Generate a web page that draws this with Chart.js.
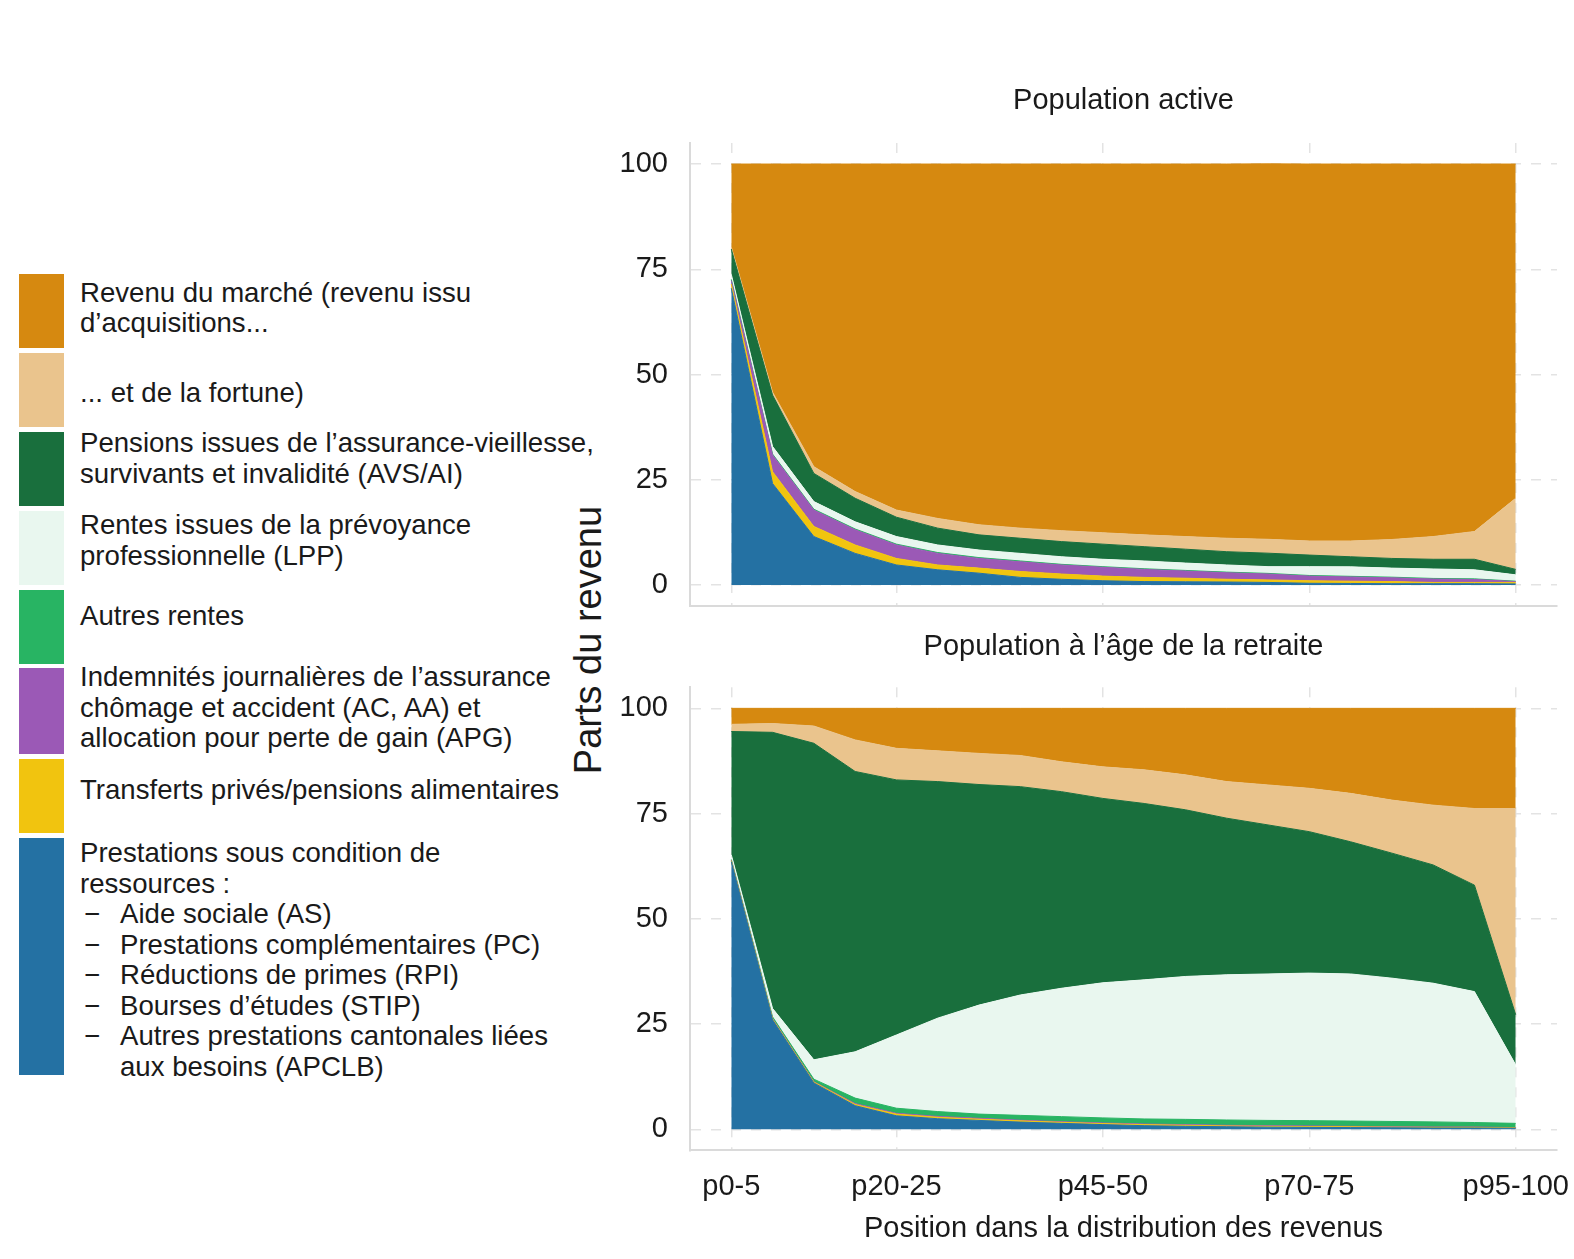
<!doctype html>
<html>
<head>
<meta charset="utf-8">
<title>Parts du revenu</title>
<script src="https://cdn.jsdelivr.net/npm/chart.js@4.4.0/dist/chart.umd.min.js"></script>
<style>
body { margin: 0; background: #fff; font-family: "Liberation Sans", Arial, sans-serif; color: #1a1a1a; }
#wrap { position: relative; width: 1574px; height: 1259px; overflow: hidden; }
#cTop { position: absolute; left: 0; top: 0; }
#cBot { position: absolute; left: 0; top: 615px; }
#ytitle { position: absolute; left: 588px; top: 640px; transform: translate(-50%, -50%) rotate(-90deg);
  font-size: 38px; white-space: nowrap; }
#legend { position: absolute; left: 19px; top: 274px; }
.row { display: flex; align-items: center; margin-bottom: 4.9px; }
.sw { width: 45px; flex: none; align-self: stretch; }
.txt { position: relative; margin-left: 16px; font-size: 27.6px; line-height: 30.5px; white-space: nowrap; }
.li { position: relative; padding-left: 40px; }
.li:before { content: "\2212"; position: absolute; left: 4px; }
</style>
</head>
<body>
<div id="wrap">
  <div id="legend"></div>
  <div id="ytitle">Parts du revenu</div>
  <canvas id="cTop" width="1574" height="625"></canvas>
  <canvas id="cBot" width="1574" height="644"></canvas>
</div>
<script>
// categories (percentiles of the income distribution)
const categories = ['p0-5','p5-10','p10-15','p15-20','p20-25','p25-30','p30-35','p35-40','p40-45','p45-50',
                    'p50-55','p55-60','p60-65','p65-70','p70-75','p75-80','p80-85','p85-90','p90-95','p95-100'];
const xTickIdx = [0, 4, 9, 14, 19];
const yTicks = [0, 25, 50, 75, 100];

// series, bottom to top
const seriesNames = ['Prestations sous condition de ressources', 'Transferts privés/pensions alimentaires',
  'Indemnités journalières (AC, AA, APG)', 'Autres rentes', 'Rentes LPP', 'Pensions AVS/AI',
  'Revenu de la fortune', 'Revenu d’acquisitions'];
const seriesColors = ['#2471A3', '#F1C40F', '#9B59B6', '#28B463', '#E9F7EF', '#196F3D', '#EAC48D', '#D68910'];

// Population active
const activeMeansTested = [70.5, 24.1, 11.5, 7.5, 4.75, 3.6, 2.8, 1.8, 1.35, 1.0, 0.8, 0.75, 0.7, 0.6, 0.4, 0.35, 0.3, 0.3, 0.3, 0.25];
const activeTransfers   = [1.0, 2.8, 2.4, 2.0, 1.55, 1.15, 1.2, 1.4, 1.25, 1.1, 1.0, 0.85, 0.65, 0.6, 0.6, 0.55, 0.5, 0.3, 0.3, 0.35];
const activeDaily       = [0.8, 4.0, 3.9, 3.6, 3.2, 2.75, 2.3, 2.3, 2.15, 2.1, 1.9, 1.7, 1.55, 1.4, 1.1, 1.0, 0.9, 0.8, 0.7, 0.2];
const activeOther       = [0.3, 0.2, 0.2, 0.2, 0.2, 0.2, 0.2, 0.2, 0.15, 0.15, 0.15, 0.15, 0.15, 0.15, 0.15, 0.15, 0.15, 0.15, 0.15, 0.1];
const activeLPP         = [1.2, 1.8, 1.8, 1.7, 1.8, 1.8, 1.8, 1.8, 1.8, 1.75, 1.85, 1.75, 1.7, 1.6, 2.1, 2.25, 2.15, 2.25, 2.15, 1.5];
const activeAVS         = [6.0, 12.2, 6.7, 5.6, 4.6, 4.0, 3.6, 3.6, 3.6, 3.6, 3.4, 3.3, 3.15, 3.2, 2.75, 2.4, 2.3, 2.3, 2.5, 1.3];
const activeWealth      = [0.5, 0.7, 1.6, 1.6, 1.7, 2.3, 2.4, 2.4, 2.6, 2.7, 2.8, 3.0, 3.2, 3.3, 3.35, 3.75, 4.5, 5.4, 6.6, 16.9];
const activeMarket      = [19.7, 54.2, 71.9, 77.8, 82.2, 84.2, 85.7, 86.5, 87.1, 87.6, 88.1, 88.5, 88.9, 89.2, 89.55, 89.55, 89.2, 88.5, 87.3, 79.4];

// Population à l'âge de la retraite
const retMeansTested = [63.6, 26.0, 11.0, 5.6, 3.2, 2.5, 2.1, 1.7, 1.4, 1.1, 0.85, 0.7, 0.6, 0.5, 0.45, 0.4, 0.35, 0.3, 0.3, 0.25];
const retTransfers   = [0.2, 0.2, 0.2, 0.3, 0.4, 0.35, 0.3, 0.3, 0.25, 0.25, 0.25, 0.25, 0.2, 0.2, 0.2, 0.2, 0.15, 0.15, 0.15, 0.1];
const retDaily       = [0.1, 0.1, 0.1, 0.2, 0.2, 0.2, 0.2, 0.15, 0.15, 0.15, 0.15, 0.15, 0.15, 0.15, 0.15, 0.1, 0.1, 0.1, 0.1, 0.05];
const retOther       = [0.2, 0.4, 0.6, 1.3, 1.2, 1.15, 1.0, 1.15, 1.2, 1.2, 1.2, 1.25, 1.25, 1.25, 1.25, 1.25, 1.25, 1.2, 1.05, 1.0];
const retLPP         = [1.1, 2.0, 4.6, 11.0, 17.4, 22.2, 25.9, 28.6, 30.5, 32.1, 33.05, 33.95, 34.5, 34.8, 35.05, 34.95, 34.05, 32.95, 31.1, 13.9];
const retAVS         = [29.3, 65.6, 75.2, 66.6, 60.6, 56.2, 52.4, 49.5, 46.7, 43.8, 41.9, 39.6, 37.2, 35.4, 33.6, 31.4, 29.7, 28.1, 25.3, 11.9];
const retWealth      = [1.7, 2.1, 4.1, 7.5, 7.5, 7.3, 7.4, 7.4, 7.1, 7.5, 8.0, 8.3, 8.7, 9.5, 10.3, 11.5, 12.6, 14.2, 18.2, 49.0];
const retMarket      = [3.8, 3.6, 4.2, 7.5, 9.5, 10.1, 10.7, 11.2, 12.7, 13.9, 14.6, 15.8, 17.4, 18.2, 19.0, 20.2, 21.8, 23.0, 23.8, 23.8];

// legend (top to bottom, as in the figure)
const legendLabels = [
  ['Revenu du marché (revenu issu', 'd’acquisitions...'],
  ['... et de la fortune)'],
  ['Pensions issues de l’assurance-vieillesse,', 'survivants et invalidité (AVS/AI)'],
  ['Rentes issues de la prévoyance', 'professionnelle (LPP)'],
  ['Autres rentes'],
  ['Indemnités journalières de l’assurance', 'chômage et accident (AC, AA) et', 'allocation pour perte de gain (APG)'],
  ['Transferts privés/pensions alimentaires'],
  ['Prestations sous condition de', 'ressources :']
];
const meansTestedItems = ['Aide sociale (AS)', 'Prestations complémentaires (PC)', 'Réductions de primes (RPI)',
  'Bourses d’études (STIP)', 'Autres prestations cantonales liées<br>aux besoins (APCLB)'];
const legendColors = seriesColors.slice().reverse();
// layout of the legend keys
const swatchHeights = [74, 74, 74, 74, 74, 85.4, 74, 237];
const textShift = [-3, 3, -10, -7, -10, -3, -5, 4];

const FONT = '"Liberation Sans", Arial, sans-serif';
const TXT = '#1a1a1a';

// build legend
var leg = document.getElementById('legend');
for (var i = 0; i < legendLabels.length; i++) {
  var html = legendLabels[i].join('<br>');
  if (i == legendLabels.length - 1) {
    for (var j = 0; j < meansTestedItems.length; j++) html += '<div class="li">' + meansTestedItems[j] + '</div>';
  }
  leg.innerHTML += '<div class="row" style="height:' + swatchHeights[i] + 'px"><div class="sw" style="background:' +
    legendColors[i] + '"></div><div class="txt" style="top:' + textShift[i] + 'px">' + html + '</div></div>';
}

function makeDatasets(series) {
  return series.map(function (vals, k) {
    return {
      label: seriesNames[k],
      data: vals.map(function (v, i) { return { x: i, y: v }; }),
      backgroundColor: seriesColors[k],
      borderColor: seriesColors[k],
      borderWidth: 1,
      pointRadius: 0,
      tension: 0,
      fill: k == 0 ? 'origin' : '-1'
    };
  });
}

function makePanel(id, title, series, isBottom, titlePad) {
  var ctx = document.getElementById(id).getContext('2d');
  return new Chart(ctx, {
    type: 'line',
    data: { datasets: makeDatasets(series) },
    options: {
      responsive: false,
      animation: false,
      layout: { padding: { left: 600, right: 17, top: 0, bottom: 0 } },
      plugins: {
        legend: { display: false },
        tooltip: { enabled: false },
        title: { display: true, text: title, fullSize: false, color: TXT,
                 font: { family: FONT, size: 29, weight: 'normal' }, padding: titlePad }
      },
      scales: {
        x: {
          type: 'linear', min: -1, max: 20,
          afterBuildTicks: function (s) { s.ticks = xTickIdx.map(function (v) { return { value: v }; }); },
          afterFit: function (s) {
            s.height = isBottom ? 108.7 : 19;
            s.paddingLeft = 0; s.paddingRight = 0;
          },
          ticks: { display: isBottom, autoSkip: false, maxRotation: 0, padding: 19, color: TXT,
                   font: { family: FONT, size: 29 },
                   callback: function (v) { return categories[v]; } },
          grid: { color: '#e3e3e3', lineWidth: 1.5, drawTicks: false },
          border: { display: true, color: '#dadada', width: 2, dash: [10, 10] },
          title: { display: isBottom, text: 'Position dans la distribution des revenus', color: TXT,
                   font: { family: FONT, size: 29 }, padding: { top: 0, bottom: 12.6 } }
        },
        y: {
          type: 'linear', stacked: true, min: -5, max: 105,
          afterBuildTicks: function (s) { s.ticks = yTicks.map(function (v) { return { value: v }; }); },
          afterFit: function (s) {
            s.width = 90;
            s.paddingTop = 0; s.paddingBottom = 0;
          },
          ticks: { padding: 22, color: TXT, font: { family: FONT, size: 29 } },
          grid: { color: '#e3e3e3', lineWidth: 1.5, drawTicks: false },
          border: { display: true, color: '#dadada', width: 2, dash: [10, 10] }
        }
      }
    }
  });
}

makePanel('cTop', 'Population active',
  [activeMeansTested, activeTransfers, activeDaily, activeOther, activeLPP, activeAVS, activeWealth, activeMarket],
  false, { top: 83.6, bottom: 24.6 });
makePanel('cBot', 'Population à l’âge de la retraite',
  [retMeansTested, retTransfers, retDaily, retOther, retLPP, retAVS, retWealth, retMarket],
  true, { top: 14.6, bottom: 22.9 });
</script>
</body>
</html>
